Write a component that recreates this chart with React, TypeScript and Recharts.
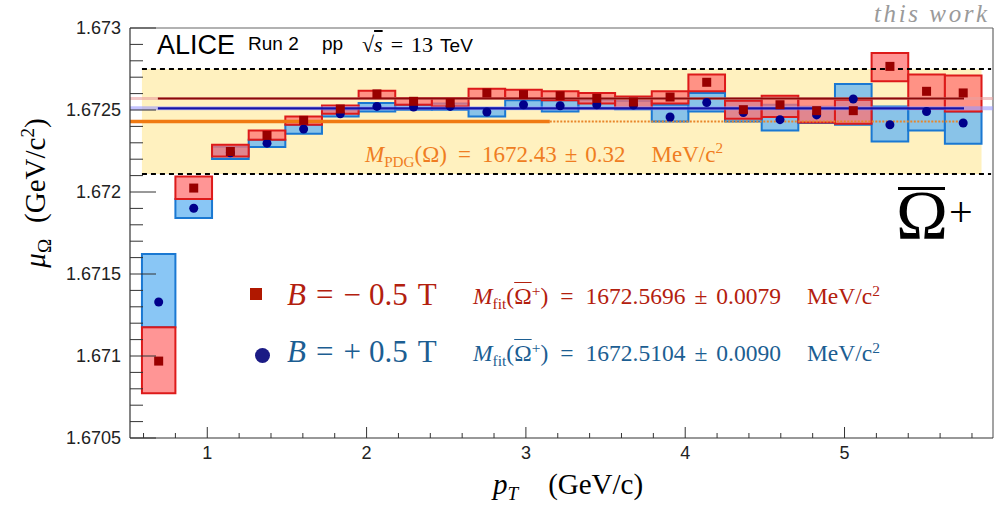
import React from "react";
import {
  ComposedChart,
  XAxis,
  YAxis,
  Scatter,
  ReferenceArea,
  ReferenceLine,
} from "recharts";

// pT bin edges (GeV/c)
const ptEdges = [
  0.59, 0.8, 1.03, 1.26, 1.49, 1.72, 1.95, 2.18, 2.41, 2.64, 2.87, 3.1, 3.33,
  3.56, 3.79, 4.02, 4.25, 4.48, 4.71, 4.94, 5.17, 5.4, 5.63, 5.86,
];

// B = -0.5 T (GeV/c^2)
const redMean = [
  1.670969, 1.672024, 1.672247, 1.672345, 1.672437, 1.672506, 1.672598,
  1.672553, 1.672543, 1.672604, 1.672594, 1.672587, 1.672571, 1.672549,
  1.672579, 1.672669, 1.672502, 1.672532, 1.672496, 1.672496, 1.672766,
  1.672614, 1.672604,
];
const redLow = [
  1.670773, 1.671958, 1.672217, 1.672319, 1.67241, 1.672477, 1.672573,
  1.672532, 1.672522, 1.672573, 1.672573, 1.672559, 1.672539, 1.672512,
  1.672539, 1.672614, 1.672447, 1.672457, 1.672424, 1.672416, 1.672675,
  1.672506, 1.672491,
];
const redHigh = [
  1.671176, 1.672094, 1.672288, 1.672375, 1.672461, 1.672528, 1.672618,
  1.672573, 1.672573, 1.67263, 1.672624, 1.672614, 1.672604, 1.672583,
  1.672614, 1.672716, 1.672557, 1.672587, 1.672567, 1.672563, 1.672848,
  1.672716, 1.67271,
];

// B = +0.5 T (GeV/c^2)
const blueMean = [
  1.671329, 1.671901, 1.672239, 1.672298, 1.672384, 1.672477, 1.672522,
  1.672518, 1.672522, 1.672488, 1.672532, 1.672526, 1.672532, 1.67253,
  1.672457, 1.672546, 1.672485, 1.672441, 1.67247, 1.672567, 1.67241,
  1.672491, 1.672421,
];
const blueLow = [
  1.671176, 1.671842, 1.672201, 1.672274, 1.672355, 1.672461, 1.672491,
  1.672502, 1.672502, 1.672461, 1.672506, 1.672491, 1.672512, 1.672505,
  1.67243, 1.672491, 1.67243, 1.672375, 1.67242, 1.67241, 1.672308,
  1.672375, 1.672294,
];
const blueHigh = [
  1.671622, 1.671958, 1.672276, 1.672319, 1.67241, 1.672502, 1.672543,
  1.672532, 1.67254, 1.672512, 1.672559, 1.672559, 1.672563, 1.672555,
  1.672532, 1.672604, 1.672557, 1.672532, 1.67252, 1.672659, 1.672522,
  1.672506, 1.672491,
];

const pdgMass = 1.67243;
const pdgErr = 0.00032;
const fitRed = 1.6725696;
const fitBlue = 1.6725104;
const fitRange = [0.69, 5.75];
const pdgSolidEnd = 3.15;

const xDomain = [0.515, 5.932];
const yDomain = [1.6705, 1.673];

const xTicks = [
  0.6, 0.8, 1, 1.2, 1.4, 1.6, 1.8, 2, 2.2, 2.4, 2.6, 2.8, 3, 3.2, 3.4, 3.6,
  3.8, 4, 4.2, 4.4, 4.6, 4.8, 5, 5.2, 5.4, 5.6, 5.8,
];
const yTicks = [
  1.6705, 1.6706, 1.6707, 1.6708, 1.6709, 1.671, 1.6711, 1.6712, 1.6713,
  1.6714, 1.6715, 1.6716, 1.6717, 1.6718, 1.6719, 1.672, 1.6721, 1.6722,
  1.6723, 1.6724, 1.6725, 1.6726, 1.6727, 1.6728, 1.6729, 1.673,
];

const SANS = "'Liberation Sans', Arial, sans-serif";
const SERIF = "'Liberation Serif', 'Times New Roman', serif";

const centers = ptEdges.slice(0, -1).map((e, i) => (e + ptEdges[i + 1]) / 2);
const redPts = centers.map((x, i) => ({ x, y: redMean[i] }));
const bluePts = centers.map((x, i) => ({ x, y: blueMean[i] }));

const XTick = ({ x, y, payload }: any) => {
  const v = payload.value;
  const major = Math.abs(v - Math.round(v)) < 1e-6;
  return (
    <g>
      <line x1={x} x2={x} y1={y} y2={y - (major ? 11 : 5)} stroke="#333" strokeWidth={1} />
      {major && (
        <text x={x} y={y + 21} textAnchor="middle" fontFamily={SANS} fontSize={18} fill="#222">
          {Math.round(v)}
        </text>
      )}
    </g>
  );
};

const YTick = ({ x, y, payload }: any) => {
  const v = payload.value;
  const major = Math.abs(v * 2000 - Math.round(v * 2000)) < 1e-6;
  return (
    <g>
      <line x1={x} x2={x + (major ? 26 : 13)} y1={y} y2={y} stroke="#333" strokeWidth={1} />
      {major && (
        <text x={x - 9} y={y} dy="0.36em" textAnchor="end" fontFamily={SANS} fontSize={18} fill="#222">
          {String(Number(v.toFixed(4)))}
        </text>
      )}
    </g>
  );
};

const RedSquare = (p: any) => (
  <rect x={p.cx - 4.5} y={p.cy - 4.5} width={9} height={9} fill="#990000" />
);
const BlueDot = (p: any) => <circle cx={p.cx} cy={p.cy} r={4.5} fill="#00008b" />;

const Sub = ({ children }: any) => (
  <span style={{ fontSize: "0.66em", position: "relative", top: "0.32em" }}>{children}</span>
);
const Sup = ({ children }: any) => (
  <span style={{ fontSize: "0.66em", position: "relative", top: "-0.55em" }}>{children}</span>
);
const Gap = ({ w }: any) => <span style={{ display: "inline-block", width: w }} />;
const OmegaBar = () => (
  <span style={{ textDecoration: "overline", textDecorationThickness: 1 }}>Ω</span>
);

// place text by its baseline
const Txt = ({ left, base, size, font = SERIF, color = "#000", style = {}, children }: any) => (
  <div
    style={{
      position: "absolute",
      left,
      top: base - 0.84 * size,
      fontSize: size,
      lineHeight: 1,
      fontFamily: font,
      color,
      whiteSpace: "nowrap",
      ...style,
    }}
  >
    {children}
  </div>
);

export default function App() {
  return (
    <div style={{ position: "absolute", left: 0, top: 0, width: 998, height: 508, background: "#fff", overflow: "hidden" }}>
      <ComposedChart width={998} height={508} margin={{ top: 28, right: 5, bottom: 30, left: 50 }}>
        <XAxis
          type="number"
          dataKey="x"
          domain={xDomain}
          allowDataOverflow
          ticks={xTicks}
          interval={0}
          tickSize={0}
          tickMargin={0}
          tickLine={false}
          height={40}
          axisLine={{ stroke: "#333", strokeWidth: 1.2 }}
          tick={<XTick />}
        />
        <YAxis
          type="number"
          dataKey="y"
          domain={yDomain}
          allowDataOverflow
          ticks={yTicks}
          interval={0}
          tickSize={0}
          tickMargin={0}
          tickLine={false}
          width={80}
          axisLine={{ stroke: "#333", strokeWidth: 1.2 }}
          tick={<YTick />}
        />
        <ReferenceLine y={yDomain[1]} stroke="#666" strokeWidth={1.2} />
        <ReferenceLine x={xDomain[1]} stroke="#666" strokeWidth={1.2} />

        {/* PDG band */}
        <ReferenceArea
          x1={ptEdges[0]}
          x2={ptEdges[ptEdges.length - 1]}
          y1={pdgMass - pdgErr}
          y2={pdgMass + pdgErr}
          fill="#ffe070"
          fillOpacity={0.45}
          stroke="none"
        />
        <ReferenceLine
          segment={[{ x: ptEdges[0], y: pdgMass + pdgErr }, { x: 5.92, y: pdgMass + pdgErr }]}
          stroke="#000"
          strokeWidth={2}
          strokeDasharray="5 4"
        />
        <ReferenceLine
          segment={[{ x: ptEdges[0], y: pdgMass - pdgErr }, { x: 5.92, y: pdgMass - pdgErr }]}
          stroke="#000"
          strokeWidth={2}
          strokeDasharray="5 4"
        />

        {/* B = +0.5 T boxes */}
        {blueMean.map((_, i) => (
          <ReferenceArea
            key={`b${i}`}
            x1={ptEdges[i]}
            x2={ptEdges[i + 1]}
            y1={blueLow[i]}
            y2={blueHigh[i]}
            fill="#6cb8f2"
            fillOpacity={0.8}
            stroke="#1a78d2"
            strokeWidth={2}
          />
        ))}

        {/* fit and PDG lines */}
        <ReferenceLine y={fitBlue} stroke="#9a9aff" strokeWidth={4} strokeOpacity={0.6} />
        <ReferenceLine
          segment={[{ x: fitRange[0], y: fitBlue }, { x: fitRange[1], y: fitBlue }]}
          stroke="#1414a8"
          strokeWidth={2.2}
        />
        <ReferenceLine y={fitRed} stroke="#e9a0a0" strokeWidth={3} strokeOpacity={0.6} />
        <ReferenceLine
          segment={[{ x: fitRange[0], y: fitRed }, { x: fitRange[1], y: fitRed }]}
          stroke="#8b0a0a"
          strokeWidth={2}
        />
        <ReferenceLine
          segment={[{ x: xDomain[0], y: pdgMass }, { x: pdgSolidEnd, y: pdgMass }]}
          stroke="#f07a12"
          strokeWidth={3.5}
        />
        <ReferenceLine
          segment={[{ x: pdgSolidEnd, y: pdgMass }, { x: fitRange[1], y: pdgMass }]}
          stroke="#e8862a"
          strokeWidth={2}
          strokeDasharray="2 1.5"
        />

        {/* B = -0.5 T boxes */}
        {redMean.map((_, i) => (
          <ReferenceArea
            key={`r${i}`}
            x1={ptEdges[i]}
            x2={ptEdges[i + 1]}
            y1={redLow[i]}
            y2={redHigh[i]}
            fill="#ff7272"
            fillOpacity={0.75}
            stroke="#dd1a1a"
            strokeWidth={2}
          />
        ))}

        <Scatter data={bluePts} shape={<BlueDot />} isAnimationActive={false} />
        <Scatter data={redPts} shape={<RedSquare />} isAnimationActive={false} />
      </ComposedChart>

      {/* texts */}
      <Txt left={874} base={22} size={25} color="#9a9a9a" style={{ fontStyle: "italic", letterSpacing: 2.6 }}>
        this work
      </Txt>
      <Txt left={157} base={55} size={27} font={SANS}>ALICE</Txt>
      <Txt left={248} base={50} size={19} font={SANS}>Run 2</Txt>
      <Txt left={322} base={50} size={19} font={SANS}>pp</Txt>
      <Txt left={362} base={52} size={22}>
        √<span style={{ textDecoration: "overline", fontStyle: "italic" }}>s</span>
        <Gap w={8} />=<Gap w={8} />13<Gap w={7} />
        <span style={{ fontFamily: SANS, fontSize: 19 }}>TeV</span>
      </Txt>

      <Txt left={365} base={162} size={23} color="#ef7d22">
        <i>M</i>
        <Sub>PDG</Sub>(Ω)<Gap w={11} />=<Gap w={11} />1672.43<Gap w={8} />±<Gap w={8} />0.32<Gap w={26} />MeV/c<Sup>2</Sup>
      </Txt>

      <div style={{ position: "absolute", left: 898, top: 187, width: 47, height: 3, background: "#000" }} />
      <Txt left={896} base={240} size={70}>Ω</Txt>
      <Txt left={949} base={226} size={42}>+</Txt>

      {/* legend */}
      <div style={{ position: "absolute", left: 250, top: 288, width: 12, height: 12, background: "#b01800" }} />
      <div style={{ position: "absolute", left: 255, top: 348, width: 15, height: 15, borderRadius: "50%", background: "#1b1b85" }} />
      <Txt left={287} base={305} size={31} color="#b3200e">
        <i>B</i>
        <Gap w={10} />=<Gap w={10} />−<Gap w={8} />0.5<Gap w={10} />T
      </Txt>
      <Txt left={287} base={362} size={31} color="#1c5e92">
        <i>B</i>
        <Gap w={10} />=<Gap w={10} />+<Gap w={8} />0.5<Gap w={10} />T
      </Txt>
      <Txt left={473} base={305} size={23.5} color="#b3200e">
        <i>M</i>
        <Sub>fit</Sub>(<OmegaBar />
        <Sup>+</Sup>)<Gap w={12} />=<Gap w={12} />1672.5696<Gap w={9} />±<Gap w={9} />0.0079<Gap w={26} />MeV/c<Sup>2</Sup>
      </Txt>
      <Txt left={473} base={362} size={23.5} color="#1c5e92">
        <i>M</i>
        <Sub>fit</Sub>(<OmegaBar />
        <Sup>+</Sup>)<Gap w={12} />=<Gap w={12} />1672.5104<Gap w={9} />±<Gap w={9} />0.0090<Gap w={26} />MeV/c<Sup>2</Sup>
      </Txt>

      {/* axis titles */}
      <Txt left={493} base={494} size={29}>
        <i>p</i>
        <Sub>
          <i>T</i>
        </Sub>
        <Gap w={30} />(GeV/c)
      </Txt>
      <div
        style={{
          position: "absolute",
          left: 35,
          top: 193,
          transform: "translate(-50%, -50%) rotate(-90deg)",
          fontFamily: SERIF,
          fontSize: 29,
          lineHeight: 1,
          whiteSpace: "nowrap",
        }}
      >
        <i>μ</i>
        <Sub>Ω</Sub>
        <Gap w={16} />(GeV/c<Sup>2</Sup>)
      </div>
    </div>
  );
}
